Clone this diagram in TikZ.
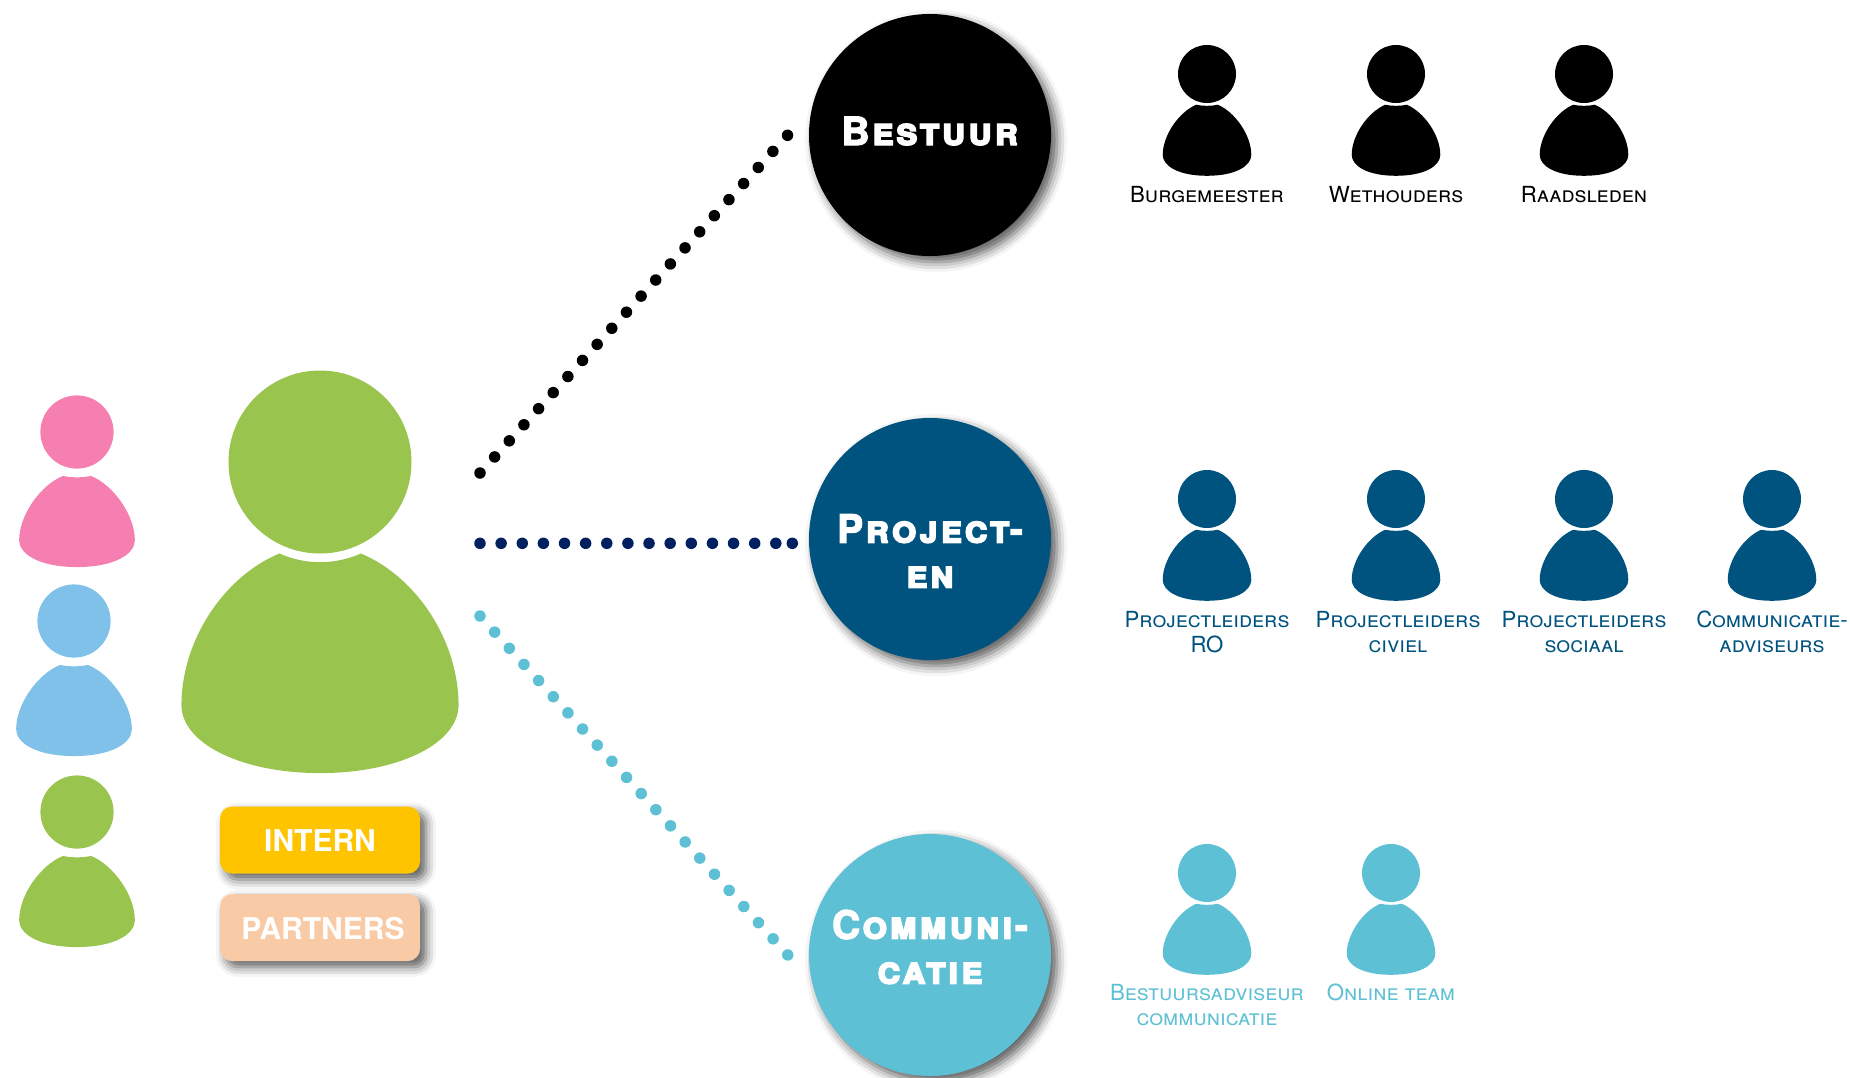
\documentclass[tikz,border=0pt]{standalone}
\usepackage{fontspec}
\setmainfont{TeX Gyre Heros}
\newfontfamily\hubfont[FakeBold=3,LetterSpace=6]{TeX Gyre Heros}
\usepackage{xcolor}
\usetikzlibrary{shadows.blur}
\definecolor{grasgroen}{HTML}{99C54E}
\definecolor{roze}{HTML}{F47FB0}
\definecolor{lichtblauw}{HTML}{7FC1E8}
\definecolor{projectblauw}{HTML}{00537F}
\definecolor{navy}{HTML}{002060}
\definecolor{turkoois}{HTML}{5EC0D4}
\definecolor{geel}{HTML}{FFC400}
\definecolor{perzik}{HTML}{F8CBA6}
\tikzset{%
  hub shadow/.style = {
    blur shadow = {shadow xshift=6pt, shadow yshift=-6pt,
      shadow blur radius=10pt, shadow opacity=65},
  },
  hub/.style = {
    circle, minimum size=242pt, inner sep=0pt, hub shadow,
  },
  hub text/.style = {
    align=center, text=white, font=\fontsize{39}{45}\selectfont\hubfont\bfseries\scshape,
  },
  tag/.style = {
    rectangle, rounded corners=12pt, minimum width=200pt, minimum height=67pt,
    inner sep=0pt, hub shadow,
  },
  tag text/.style = {
    text=white, font=\fontsize{30}{36}\selectfont\bfseries,
  },
  role/.style = {
    align=center, font=\fontsize{22.2}{25.5}\selectfont\scshape,
  },
  dot line/.style = {
    line width=11.5pt, line cap=round, dash pattern=on 0pt off #1,
  },
  pics/person/.style n args = {3}{
    code = {
      \fill[pic actions] (0,0) circle (1);
      \fill[pic actions, shift={(0,#3)}, xscale=#1, yscale=#2]
        (-0.37,0) .. controls (-0.15,0.05) and (0.15,0.05) .. (0.37,0)
        .. controls (0.95,0.24) and (1.527,1.04) .. (1.527,1.73)
        .. controls (1.527,2.1) and (1.0,2.45) .. (0,2.45)
        .. controls (-1.0,2.45) and (-1.527,2.1) .. (-1.527,1.73)
        .. controls (-1.527,1.04) and (-0.95,0.24) .. (-0.37,0) -- cycle;
    }
  },
  pics/big person/.style = {
    code = {
      \fill[pic actions] (0,0) circle (1);
      \fill[pic actions]
        (-0.443,1) arc[start angle=114, end angle=66, radius=1.093]
        .. controls (1.05,1.25) and (1.514,1.95) .. (1.514,2.656)
        .. controls (1.514,3.08) and (0.85,3.4) .. (0,3.4)
        .. controls (-0.85,3.4) and (-1.514,3.08) .. (-1.514,2.656)
        .. controls (-1.514,1.95) and (-1.05,1.25) .. (-0.443,1) -- cycle;
    }
  },
}
\begin{document}
\begin{tikzpicture}[x=1pt,y=-1pt]
\useasboundingbox (0,0) rectangle (1850,1077);
% left column
\pic[fill=roze, scale=36.6] at (77,432) {person={1.035}{1.016}{1.2}};
\pic[fill=lichtblauw, scale=36.6] at (74,621) {person={1.035}{1.016}{1.2}};
\pic[fill=grasgroen, scale=36.6] at (77,812) {person={1.035}{1.016}{1.2}};
\pic[fill=grasgroen, scale=91.5] at (320,462) {big person};
\node[tag,fill=geel] (intern) at (320,840) {};
\node[tag text] (interntxt) at (320,841) {INTERN};
\node[tag,fill=perzik] (partners) at (320,927.5) {};
\node[tag text] (partnerstxt) at (323,929) {PARTNERS};
% hubs
\node[hub,fill=black] (bestuur) at (930,135) {};
\node[hub,fill=projectblauw] (projecten) at (930,539) {};
\node[hub,fill=turkoois] (communicatie) at (930,955) {};
\node[hub text] (bestuurtxt) at (930,131) {Bestuur};
\node[hub text] (projectentxt) at (930,551) {Project-\\en};
\node[hub text] (communicatietxt) at (930,947) {Communi-\\catie};
% dotted lines
\coordinate (bron1) at (480,473);
\coordinate (bron2) at (480,543.3);
\coordinate (bron3) at (480,616);
\coordinate (doel1) at ([xshift=-21pt]bestuur.west);
\coordinate (tussen2) at (776.5,543.3);
\coordinate (doel2) at (792.3,543.3);
\coordinate (doel3) at ([xshift=-21pt]communicatie.west);
\draw[dot line=21.75pt,black] (bron1) -- (doel1);
\draw[dot line=21.13pt,navy] (bron2) -- (tussen2);
\draw[dot line=21.13pt,navy] (doel2) -- (tussen2);
\draw[dot line=21.8pt,turkoois] (bron3) -- (doel3);
% bestuur row
\pic[fill=black, scale=29] at (1207,74) {person={1}{1}{1.06}};
\pic[fill=black, scale=29] at (1396,74) {person={1}{1}{1.06}};
\pic[fill=black, scale=29] at (1584,74) {person={1}{1}{1.06}};
\node[role,text=black] (burgemeester) at (1207,195) {Burgemeester};
\node[role,text=black] (wethouders) at (1396,195) {Wethouders};
\node[role,text=black] (raadsleden) at (1584,195) {Raadsleden};
% project row
\pic[fill=projectblauw, scale=29] at (1207,499) {person={1}{1}{1.06}};
\pic[fill=projectblauw, scale=29] at (1396,499) {person={1}{1}{1.06}};
\pic[fill=projectblauw, scale=29] at (1584,499) {person={1}{1}{1.06}};
\pic[fill=projectblauw, scale=29] at (1772,499) {person={1}{1}{1.06}};
\node[role,text=projectblauw] (leidersro) at (1207,632) {Projectleiders\\RO};
\node[role,text=projectblauw] (leiderscivieel) at (1398,632) {Projectleiders\\civiel};
\node[role,text=projectblauw] (leiderssociaal) at (1584,632) {Projectleiders\\sociaal};
\node[role,text=projectblauw] (adviseurs) at (1772,632) {Communicatie-\\adviseurs};
% communicatie row
\pic[fill=turkoois, scale=29] at (1207,873) {person={1}{1}{1.06}};
\pic[fill=turkoois, scale=29] at (1391,873) {person={1}{1}{1.06}};
\node[role,text=turkoois] (bestuursadviseur) at (1207,1005) {Bestuursadviseur\\communicatie};
\node[role,text=turkoois] (onlineteam) at (1391,992) {Online team};
\end{tikzpicture}
\end{document}
